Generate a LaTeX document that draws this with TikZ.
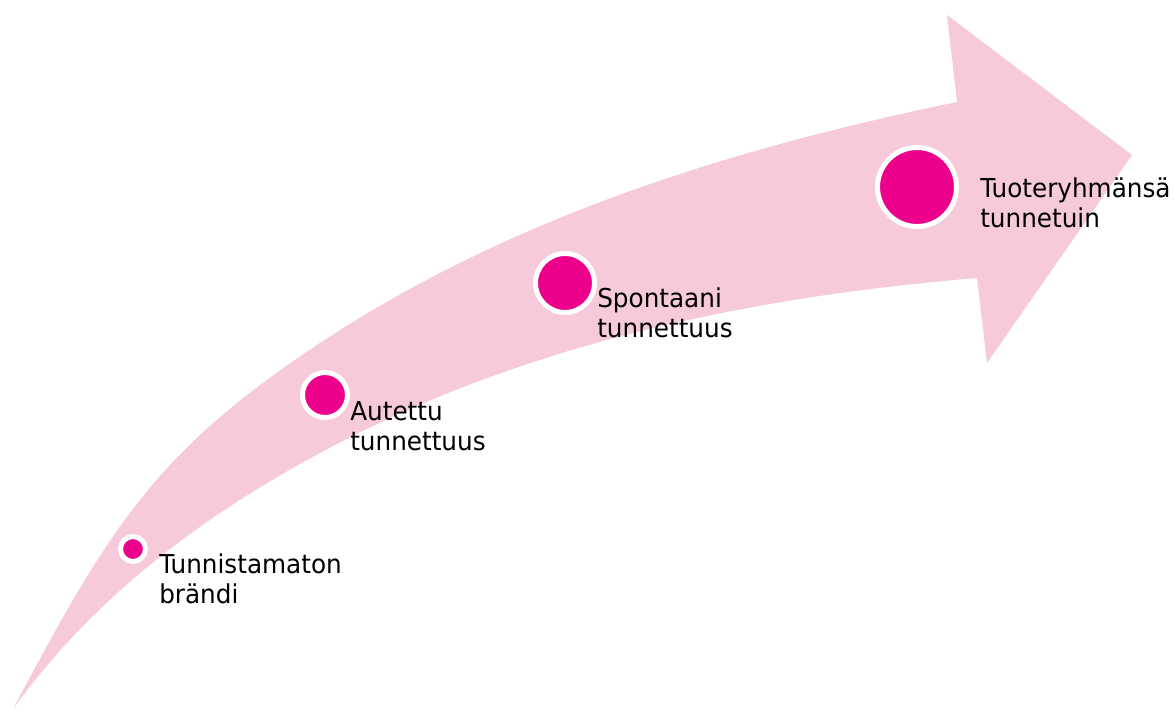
\documentclass[tikz,border=0pt]{standalone}
\usepackage{fontspec}
\setmainfont{DejaVu Sans}[FakeStretch=0.95]
\definecolor{arrowpink}{HTML}{F6CADA}
\definecolor{dotmag}{HTML}{EC008C}
\begin{document}
\begin{tikzpicture}[x=0.75pt,y=-0.75pt,
  dot/.style={circle,fill=dotmag,draw=white,line width=3.75pt,inner sep=0pt},
  lbl/.style={anchor=base west,align=left,inner sep=0pt,font=\fontsize{19.5}{22.5}\selectfont}]
\useasboundingbox (0,0) rectangle (1174,709);
\fill[arrowpink] (13,709) .. controls (108,531) and (153,453) .. (320,343)
  .. controls (512,216.5) and (732,148.5) .. (957,102)
  -- (947,15) -- (1132,155) -- (987,363) -- (977,278)
  .. controls (748,297) and (522,344) .. (320,453)
  .. controls (201,517) and (93,598) .. (13,709) -- cycle;
\node[dot,minimum size=18.75pt] (d1) at (133,549) {};
\node[dot,minimum size=33.75pt] (d2) at (325,395) {};
\node[dot,minimum size=44.25pt] (d3) at (565,283) {};
\node[dot,minimum size=59.25pt] (d4) at (917,187) {};
\node[lbl] (t1) at (159,603) {Tunnistamaton\\brändi};
\node[lbl] (t2) at (350,450) {Autettu\\tunnettuus};
\node[lbl] (t3) at (597,337) {Spontaani\\tunnettuus};
\node[lbl] (t4) at (980,228) {Tuoteryhmänsä\\tunnetuin};
\end{tikzpicture}
\end{document}
